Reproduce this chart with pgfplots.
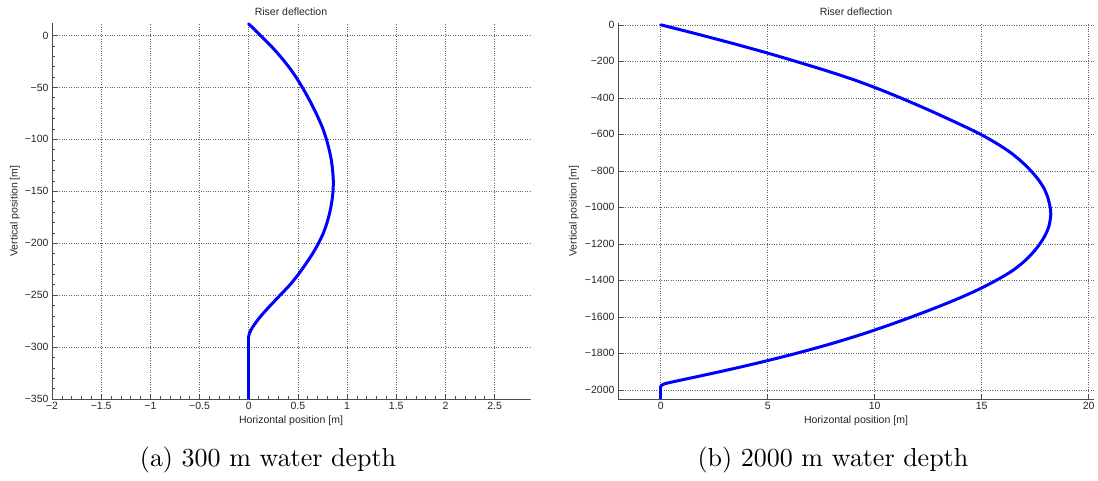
\documentclass[border=0pt]{standalone}
\usepackage{fontspec}
\setmainfont{Liberation Sans}
\usepackage{pgfplots}
\pgfplotsset{compat=1.18}
% caption font: Computer Modern at a large size
\font\capfont=cmr10 at 26pt

\pgfplotsset{
  riser/.style={
    scale only axis,
    axis x line=bottom, axis y line=left,
    axis line style={-, draw=black!70, line width=0.9pt},
    every outer x axis line/.append style={-},
    every outer y axis line/.append style={-},
    tick align=inside, major tick length=5pt,
    tick style={black!70, line width=0.6pt},
    grid=major,
    major grid style={dotted, black!60, line width=0.6pt},
    font=\fontsize{10.5}{12}\selectfont,
    tick label style={font=\fontsize{10.5}{12}\selectfont, text=black!85},
    title style={font=\fontsize{10.5}{12}\selectfont, text=black!85,
      at={(axis description cs:0.5,1)}, anchor=center, yshift=5pt},
    xlabel style={font=\fontsize{10.5}{12}\selectfont, text=black!85,
      at={(axis description cs:0.5,0)}, anchor=center, yshift=-22pt},
    ylabel style={font=\fontsize{10.5}{12}\selectfont, text=black!85,
      at={(axis description cs:0,0.5)}, anchor=center},
    title={Riser deflection},
    xlabel={Horizontal position [m]},
    ylabel={Vertical position [m]},
  },
  deflection/.style={blue, line width=3pt, line join=round, line cap=round, no markers},
}

\begin{document}
\begin{tikzpicture}
\useasboundingbox (0,0) rectangle (1098pt,481pt);

% (a) 300 m water depth
\begin{axis}[riser,
  at={(52pt,82pt)}, anchor=south west,
  width=478pt, height=376pt,
  xmin=-2, xmax=2.86, ymin=-350, ymax=12,
  xtick={-2,-1.5,-1,-0.5,0,0.5,1,1.5,2,2.5},
  xticklabels={−2,−1.5,−1,−0.5,0,0.5,1,1.5,2,2.5},
  ytick={0,-50,-100,-150,-200,-250,-300,-350},
  yticklabels={0,−50,−100,−150,−200,−250,−300,−350},
  minor x tick num=4, minor y tick num=4, minor tick length=2.5pt,
  ylabel style={yshift=37pt},
]
% deflected part of the riser
\addplot[deflection, smooth, tension=0.5] coordinates {
  (0,11) (0.012,10) (0.12,0) (0.225,-10) (0.32,-20) (0.405,-30)
  (0.48,-40) (0.545,-50) (0.605,-60) (0.66,-70) (0.71,-80)
  (0.755,-90) (0.79,-100) (0.818,-110) (0.84,-120) (0.853,-130)
  (0.86,-140) (0.857,-150) (0.845,-160) (0.825,-170) (0.797,-180)
  (0.76,-190) (0.71,-200) (0.65,-210) (0.58,-220) (0.505,-230)
  (0.42,-240) (0.32,-250) (0.22,-260) (0.125,-270) (0.06,-278)
  (0.02,-284) (0.004,-288) (0,-290)
};
% straight part below
\addplot[deflection] coordinates {(0,-290) (0,-350)};
\end{axis}

% (b) 2000 m water depth
\begin{axis}[riser,
  at={(618pt,82pt)}, anchor=south west,
  width=476pt, height=376pt,
  xmin=-2, xmax=20.25, ymin=-2050, ymax=10,
  xtick={0,5,10,15,20},
  xticklabels={0,5,10,15,20},
  ytick={0,-200,-400,-600,-800,-1000,-1200,-1400,-1600,-1800,-2000},
  yticklabels={0,−200,−400,−600,−800,−1000,−1200,−1400,−1600,−1800,−2000},
  ylabel style={yshift=44pt},
]
% deflected part of the riser
\addplot[deflection, smooth, tension=0.5] coordinates {
  (0,0) (1.68,-50) (3.3,-100) (4.85,-150) (6.3,-200) (7.7,-250)
  (9.0,-300) (10.15,-350) (11.2,-400) (12.2,-450) (13.15,-500)
  (14.07,-550) (14.95,-600) (15.7,-650) (16.35,-700) (16.87,-750)
  (17.3,-800) (17.66,-850) (17.93,-900) (18.1,-950) (18.2,-1000)
  (18.23,-1040) (18.15,-1100) (17.98,-1150) (17.72,-1200)
  (17.38,-1250) (16.95,-1300) (16.4,-1350) (15.68,-1400)
  (14.85,-1450) (13.9,-1500) (12.85,-1550) (11.73,-1600)
  (10.55,-1650) (9.28,-1700) (7.88,-1750) (6.33,-1800) (4.63,-1850)
  (2.78,-1900) (0.8,-1950) (0.2,-1966) (0.04,-1975) (0,-1982)
};
% straight part at the bottom
\addplot[deflection] coordinates {(0,-1982) (0,-2050)};
\end{axis}

\node at (268pt,21pt) {\capfont (a) 300 m water depth};
\node at (833pt,21pt) {\capfont (b) 2000 m water depth};
\end{tikzpicture}
\end{document}
